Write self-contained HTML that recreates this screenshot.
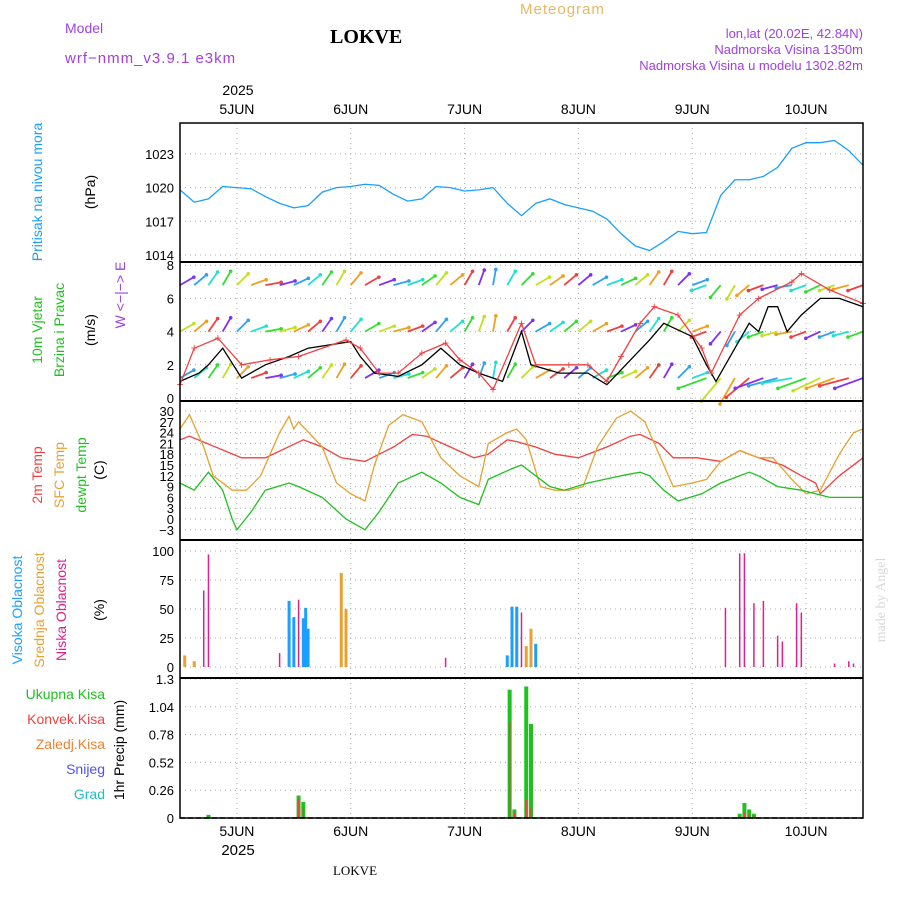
<!DOCTYPE html>
<html><head><meta charset="utf-8"><style>
html,body{margin:0;padding:0;background:#fff;}
svg{display:block;font-family:"Liberation Sans",sans-serif;}
</style></head><body>
<svg id="chart" width="900" height="900" xmlns="http://www.w3.org/2000/svg">
<text x="65" y="33" fill="#a040e0" font-size="14">Model</text>
<text x="65" y="63" fill="#a040e0" font-size="15" letter-spacing="1">wrf−nmm_v3.9.1 e3km</text>
<text x="330" y="43" fill="#000" font-size="20" font-weight="bold" font-family="Liberation Serif,serif">LOKVE</text>
<text x="520" y="14" fill="#e8b860" font-size="15" letter-spacing="1">Meteogram</text>
<text x="863" y="38" fill="#a040e0" font-size="13" text-anchor="end">lon,lat (20.02E, 42.84N)</text>
<text x="863" y="54" fill="#a040e0" font-size="13" text-anchor="end">Nadmorska Visina 1350m</text>
<text x="863" y="70" fill="#a040e0" font-size="13" text-anchor="end">Nadmorska Visina u modelu 1302.82m</text>
<text x="238" y="95" font-size="14" text-anchor="middle">2025</text>
<text x="238" y="855" font-size="15" text-anchor="middle">2025</text>
<text x="355" y="875" font-size="13" font-family="Liberation Serif,serif" text-anchor="middle">LOKVE</text>
<text transform="translate(885,600) rotate(-90)" font-size="14" fill="#d8d8d8" text-anchor="middle" font-family="Liberation Serif,serif">made by Angel</text>
<g id="layer"></g>
</svg>
<script>
const pressHours=[0,3,6,9,12,15,18,21,24,27,30,33,36,39,42,45,48,51,54,57,60,63,66,69,72,75,78,81,84,87,90,93,96,99,102,105,108,111,114,117,120,123,126,129,132,135,138,141,144];
const pressVals=[1019.8,1018.7,1019.0,1020.1,1020.0,1019.9,1019.2,1018.6,1018.2,1018.4,1019.6,1020.0,1020.1,1020.3,1020.2,1019.4,1018.8,1019.0,1020.1,1020.0,1019.7,1019.8,1020.0,1018.6,1017.5,1018.6,1019.0,1018.5,1018.2,1017.9,1017.2,1015.9,1014.8,1014.4,1015.2,1016.1,1015.9,1016.0,1019.3,1020.7,1020.7,1021.0,1021.8,1023.5,1024.0,1024.0,1024.2,1023.3,1022.0];
const t2Hours=[0,2,13,18,26,30,34,39,45,49,52,57,62,65,69,71,75,79,84,90,95,97,101,104,109,114,118,122,127,131,134,135,139,144];
const t2Vals=[22,23,17,17,22,20,17,16,20,23.5,23,20,17,18,22,21.5,20,18,17,20,23,23.5,21,17,17,16,19,17,15,12,10,7,12,17];
const sfcHours=[0,2,5,7,11,14,17,21,23,24,25,30,33,36,39,41,44,47,51,55,59,63,65,69,71,73,76,79,82,85,88,92,95,98,101,104,108,111,114,118,122,125,129,132,135,139,142,144];
const sfcVals=[25,29,20,12,8,8,12,24,28.5,25,27,20,10,7,5,15,26,29,27,17,12,9,21,24,25,22,9,8,8,9,20,28,30,27,18,9,10,11,16,19,17,17,11,7,8,18,24,25];
const dewHours=[0,3,6,9,11,12,15,18,23,25,30,35,39,42,46,51,55,59,63,65,70,72,75,78,81,86,93,97,99,102,105,110,114,120,122,126,131,137,144];
const dewVals=[10,8,13,8,0,-3,2,8,10,9,6,0,-3,2,10,13,10,6,4,11,14,15,12,9,8,10,12,13,12,8,5,7,10,13,12,9,8,6,6];
const windHours=[0,4,6,9,13,18,23,27,36,38,41,46,51,55,59,63,68,72,74,80,86,90,94,99,102,108,111,113,117,120,122,124,126,128,131,135,139,144];
const windVals=[1,1.5,2,3,1.2,2,2.5,3,3.4,2.5,1.5,1.3,2,3,2,1.5,1,4,2,1.5,1.5,0.8,2,3.5,4.5,3.7,2,1,3,4.5,4,5.5,5.5,4,5,6,6,5.5];
const gustHours=[0,3,8,13,19,25,35,38,42,46,51,56,59,63,66,72,75,82,86,90,93,97,100,105,110,112,118,122,129,131,137,144];
const gustVals=[0.8,3,3.6,2,2.3,2.5,3.5,3,1.5,1.5,2.7,3.3,2.3,1.5,0.5,4.5,2,2,2,1,2.5,4.5,5.5,5,3,1.5,5,6,7,7.5,6.5,5.7];
const arrowLevels=[1.2,4,6.8];
const arrowHours=[0,3,6,9,12,15,18,21,24,27,30,33,36,39,42,45,48,51,54,57,60,63,66,69,72,75,78,81,84,87,90,93,96,99,102,105,108,111,114,117,120,123,126,129,132,135,138,141,144];
const arrowDir=[30,40,55,60,45,20,10,15,25,40,55,60,50,30,20,15,20,35,50,40,60,70,80,60,45,30,35,40,40,30,20,25,40,55,60,45,20,200,230,240,220,200,195,190,200,205,200,195,200];
const cloudHours=[1,3,5,6,21,23,24,25,26,26.5,27,34,35,56,69,70,71,72,73,74,75,115,118,119,121,123,126,127,130,131,138,141,142];
const cloudVals=[10,5,66,97,12,57,43,58,42,51,33,81,50,8,10,52,52,47,18,33,20,51,98,98,55,57,27,22,55,47,3,5,3];
const cloudType=["m","m","l","l","l","h","h","l","h","h","h","m","m","l","h","h","h","l","m","m","h","l","l","l","l","l","l","l","l","l","l","l","l"];
const precipHours=[6,25,26,69.5,70.5,73,74,118,119,120,121];
const precipTotal=[0.03,0.21,0.15,1.2,0.08,1.23,0.88,0.04,0.14,0.08,0.04];
const precipConv=[0,0.18,0.1,0.9,0.05,0.17,0.1,0.02,0.05,0.04,0.02];
const dayLabels=["5JUN","6JUN","7JUN","8JUN","9JUN","10JUN"];
const dayHours=[12,36,60,84,108,132];
const pressTicks=[1014,1017,1020,1023];
const windTicks=[0,2,4,6,8];
const tempTicks=[-3,0,3,6,9,12,15,18,21,24,27,30];
const cloudTicks=[0,25,50,75,100];
const precipTicks=[0,0.26,0.52,0.78,1.04,1.3];

const NS="http://www.w3.org/2000/svg";
const L=document.getElementById('layer');
const X0=180,X1=863;
const x=h=>X0+h/144*(X1-X0);
function mk(tag,attrs,parent){const e=document.createElementNS(NS,tag);for(const k in attrs)e.setAttribute(k,attrs[k]);(parent||L).appendChild(e);return e;}
const yP=v=>255-(v-1014)*11.23;
const yW=v=>398-v*16.6;
const yT=v=>411+(30-v)*3.6;
const yC=v=>667-v*1.16;
const yR=v=>818-v/1.3*139;

function grid(ticks,yf,fmt,name){
  ticks.forEach(t=>{
    const l=mk('line',{x1:X0,x2:X1,y1:yf(t),y2:yf(t),stroke:'#aaa','stroke-dasharray':'1 4'});
    
    
    const tx=mk('text',{x:X0-6,y:yf(t)+5,'font-size':'13','text-anchor':'end'});
    tx.textContent=fmt(t);
    
    
  });
}
dayHours.forEach(h=>{
  const l=mk('line',{x1:x(h),x2:x(h),y1:123,y2:818,stroke:'#aaa','stroke-dasharray':'1 4'});
  
  
});
dayLabels.forEach((d,i)=>{
  [114,836].forEach(yy=>{
    const t=mk('text',{x:x(dayHours[i]),y:yy,'font-size':'14','text-anchor':'middle'});
    t.textContent=d;
    
    
  });
});
grid(pressTicks,yP,t=>t,'pressure');
grid(windTicks,yW,t=>t,'wind');
grid(tempTicks,yT,t=>t<0?'−'+(-t):t,'temp');
grid(cloudTicks,yC,t=>t,'cloud');
grid(precipTicks,yR,t=>t,'precip');

function line(hs,vs,yf,col,name){
  const p=mk('polyline',{points:hs.map((h,i)=>x(h)+','+yf(vs[i])).join(' '),fill:'none',stroke:col,'stroke-width':'1.3'});
  
  
}
line(pressHours,pressVals,yP,'#1a9fff','pressure-line');
line(t2Hours,t2Vals,yT,'#f04040','temp-2m-line');
line(sfcHours,sfcVals,yT,'#e8a030','temp-sfc-line');
line(dewHours,dewVals,yT,'#20c020','dewpoint-line');

const arrowColors=['#8030f0','#30a0f0','#20e0d0','#30e030','#c0e020','#f0a020','#f04040'];
arrowLevels.forEach(lv=>{
  arrowHours.forEach((h,i)=>{
    const a=arrowDir[i]*Math.PI/180,len=lv===arrowLevels[0]&&h>108?30:16;
    const x1=x(h),y1=yW(lv),x2=x1+Math.cos(a)*len,y2=y1-Math.sin(a)*len;
    const c=arrowColors[(i+Math.round(lv))%arrowColors.length];
    const ar=mk('line',{x1:x1,y1:y1,x2:x2,y2:y2,stroke:c,'stroke-width':'1.8'});
    
    
    const hd=mk('circle',{cx:x2,cy:y2,r:1.8,fill:c});
    
    
  });
});
line(windHours,windVals,yW,'#000','wind-speed-line');
line(gustHours,gustVals,yW,'#f04040','wind-gust-line');
gustHours.forEach((h,i)=>{
  const m=mk('text',{x:x(h),y:yW(gustVals[i])+4,'font-size':'12',fill:'#f04040','text-anchor':'middle'});
  m.textContent='+';
  
  
});
const cc={h:'#1a9fff',m:'#e8a030',l:'#e0208a'};
cloudHours.forEach((h,i)=>{
  const w=cloudType[i]==='l'?1.5:3;
  const b=mk('rect',{x:x(h)-w/2,y:yC(cloudVals[i]),width:w,height:yC(0)-yC(cloudVals[i]),fill:cc[cloudType[i]]});
  
  
});
precipHours.forEach((h,i)=>{
  const b=mk('rect',{x:x(h)-2,y:yR(precipTotal[i]),width:4,height:yR(0)-yR(precipTotal[i]),fill:'#20c020'});
  
  
  const c=mk('rect',{x:x(h)-0.7,y:yR(precipConv[i]),width:1.4,height:yR(0)-yR(precipConv[i]),fill:'#f04040'});
  
  
});
const fr=mk('rect',{x:X0,y:123,width:X1-X0,height:695,fill:'none',stroke:'#000','stroke-width':'1.5'});


[262,401,540,678].forEach(yy=>{
  const s=mk('line',{x1:X0,x2:X1,y1:yy,y2:yy,stroke:'#000','stroke-width':'2'});
  
  
});
const dl=mk('line',{x1:X0,x2:X1,y1:818,y2:818,stroke:'#000','stroke-dasharray':'5 3','stroke-width':'1.5'});


function vlab(txt,xx,yy,col,name){
  const t=mk('text',{transform:`translate(${xx},${yy}) rotate(-90)`,'font-size':'14',fill:col,'text-anchor':'middle'});
  t.textContent=txt;
  
  
}
vlab('Pritisak na nivou mora',42,192,'#1a9fff','pressure-title');
vlab('(hPa)',95,192,'#000','pressure-unit');
vlab('10m Vjetar',42,330,'#20c020','wind-title');
vlab('Brzina i Pravac',64,330,'#20c020','wind-subtitle');
vlab('(m/s)',95,330,'#000','wind-unit');
vlab('W  <−|−>  E',125,295,'#a040e0','wind-compass');
vlab('2m Temp',42,475,'#f04040','temp2m-title');
vlab('SFC Temp',64,475,'#e8a030','sfc-title');
vlab('dewpt Temp',86,475,'#20c020','dewpt-title');
vlab('(C)',104,470,'#000','temp-unit');
vlab('Visoka Oblacnost',22,610,'#1a9fff','high-cloud-title');
vlab('Srednja Oblacnost',44,610,'#e8a030','mid-cloud-title');
vlab('Niska Oblacnost',66,610,'#e0208a','low-cloud-title');
vlab('(%)',104,610,'#000','cloud-unit');
vlab('1hr Precip (mm)',124,750,'#000','precip-unit');
[['Ukupna Kisa','#20c020',699],['Konvek.Kisa','#f04040',724],['Zaledj.Kisa','#f08030',749],['Snijeg','#5050f0',774],['Grad','#20c0c0',799]].forEach(r=>{
  const t=mk('text',{x:105,y:r[2],'font-size':'14',fill:r[1],'text-anchor':'end'});
  t.textContent=r[0];
  
  
});
</script>
</body></html>
